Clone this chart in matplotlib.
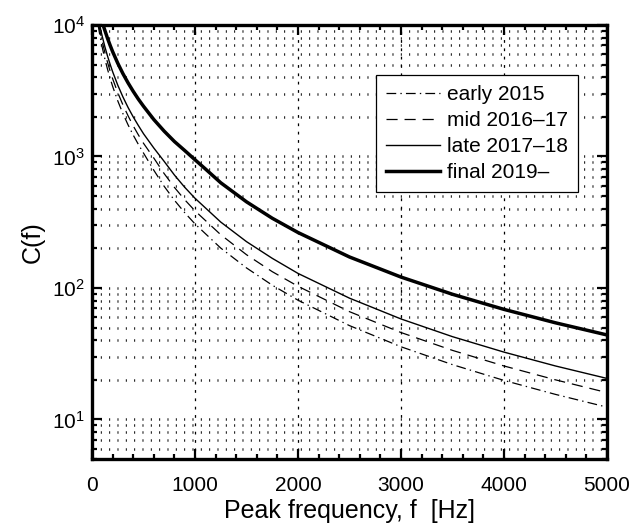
import matplotlib
matplotlib.use("Agg")
import matplotlib.pyplot as plt
from matplotlib.ticker import FixedLocator, LogLocator, NullFormatter, FixedFormatter

plt.rcParams['font.family'] = ['Liberation Sans', 'DejaVu Sans']
plt.rcParams['mathtext.default'] = 'regular'
plt.rcParams['lines.scale_dashes'] = False

# ---- data ----
f_early = [59, 80, 100, 125, 150, 175, 200, 250, 300, 350, 400, 450, 500, 600, 700, 800, 900,
           1000, 1250, 1500, 1750, 2000, 2500, 3000, 3500, 4000, 4500, 5000]
c_early = [10000, 8050, 6730, 5520, 4630, 3960, 3420, 2650, 2120, 1740, 1455, 1236, 1062, 786, 594, 465, 374,
           307, 201, 142, 105, 80.7, 51.7, 35.7, 26.1, 19.8, 15.5, 12.4]

f_mid = [66, 80, 100, 125, 150, 175, 200, 250, 300, 350, 400, 450, 500, 600, 700, 800, 900,
         1000, 1250, 1500, 1750, 2000, 2500, 3000, 3500, 4000, 4500, 5000]
c_mid = [10000, 8810, 7440, 6170, 5220, 4490, 3910, 3060, 2470, 2040, 1710, 1460, 1260, 973, 742, 582, 469,
         386, 254, 179, 133, 103, 66.0, 45.8, 33.5, 25.5, 20.0, 16.0]

f_late = [75, 90, 100, 125, 150, 175, 200, 250, 300, 350, 400, 450, 500, 600, 700, 800, 900,
          1000, 1250, 1500, 1750, 2000, 2500, 3000, 3500, 4000, 4500, 5000]
c_late = [10000, 8820, 8160, 6830, 5830, 5050, 4420, 3490, 2840, 2360, 2000, 1720, 1490, 1160, 919, 723, 583,
          481, 317, 225, 168, 129, 83.6, 58.1, 42.6, 32.5, 25.5, 20.5]

f_final = [108, 125, 150, 175, 200, 250, 300, 350, 400, 450, 500, 600, 700, 800, 900,
           1000, 1100, 1250, 1500, 1750, 2000, 2500, 3000, 3500, 4000, 4500, 5000]
c_final = [10000, 9090, 7950, 7040, 6280, 5120, 4270, 3630, 3130, 2730, 2410, 1910, 1560, 1300, 1110,
           944, 805, 631, 452, 339, 264, 172, 121, 89.5, 68.7, 54.3, 43.9]

labels = ['early 2015', 'mid 2016\u201317', 'late 2017\u201318', 'final 2019\u2013']
x_ticks = [0, 1000, 2000, 3000, 4000, 5000]
y_ticks = [10, 100, 1000, 10000]
y_tick_labels = ['$10^{1}$', '$10^{2}$', '$10^{3}$', '$10^{4}$']

# ---- figure ----
fig = plt.figure(figsize=(6.33, 5.25), dpi=100)
ax = fig.add_axes([92/633, 66/525, 515/633, 434/525])

ax.plot(f_early, c_early, color='black', lw=0.9, linestyle=(0, (7, 3, 1, 3)), label=labels[0])
ax.plot(f_mid, c_mid, color='black', lw=0.9, linestyle=(0, (8, 5)), label=labels[1])
ax.plot(f_late, c_late, color='black', lw=1.0, linestyle='-', label=labels[2])
ax.plot(f_final, c_final, color='black', lw=2.5, linestyle='-', label=labels[3])

ax.set_yscale('log')
ax.set_xlim(0, 5000)
ax.set_ylim(5, 10000)

ax.xaxis.set_major_locator(FixedLocator(x_ticks))
ax.xaxis.set_minor_locator(FixedLocator([v for v in range(0, 5001, 200) if v % 1000 != 0]))
ax.yaxis.set_major_locator(FixedLocator(y_ticks))
ax.yaxis.set_major_formatter(FixedFormatter(y_tick_labels))
ax.yaxis.set_minor_locator(LogLocator(base=10, subs=range(2, 10)))
ax.yaxis.set_minor_formatter(NullFormatter())

# dotted grid: horizontal rows as short upright dots, vertical lines as short dashes
ax.grid(True, which='major', axis='x', color='black', linewidth=0.9, linestyle=(0, (2.0, 4.0)))
ax.grid(True, which='both', axis='y', color='black', linewidth=1.8, linestyle=(0, (0.7, 5.3)))
ax.set_axisbelow(True)

ax.tick_params(which='both', direction='in', top=True, right=True, colors='black', labelsize=15)
ax.tick_params(which='major', length=7, width=1.6)
ax.tick_params(which='minor', length=3.5, width=1.6)
ax.tick_params(axis='x', pad=12)
ax.tick_params(axis='y', pad=5)

for s in ax.spines.values():
    s.set_linewidth(2.4)
    s.set_color('black')

ax.set_xlabel('Peak frequency, f  [Hz]', fontsize=18, labelpad=3)
ax.set_ylabel('C(f)', fontsize=18, labelpad=5)

leg = ax.legend(loc='upper right', bbox_to_anchor=(0.9437, 0.8848), borderaxespad=0, fontsize=15,
                handlelength=2.6, handletextpad=0.3, labelspacing=0.33,
                borderpad=0.5, fancybox=False, framealpha=1, edgecolor='black')
leg.get_frame().set_linewidth(0.9)

fig.savefig('out.png', dpi=100)
